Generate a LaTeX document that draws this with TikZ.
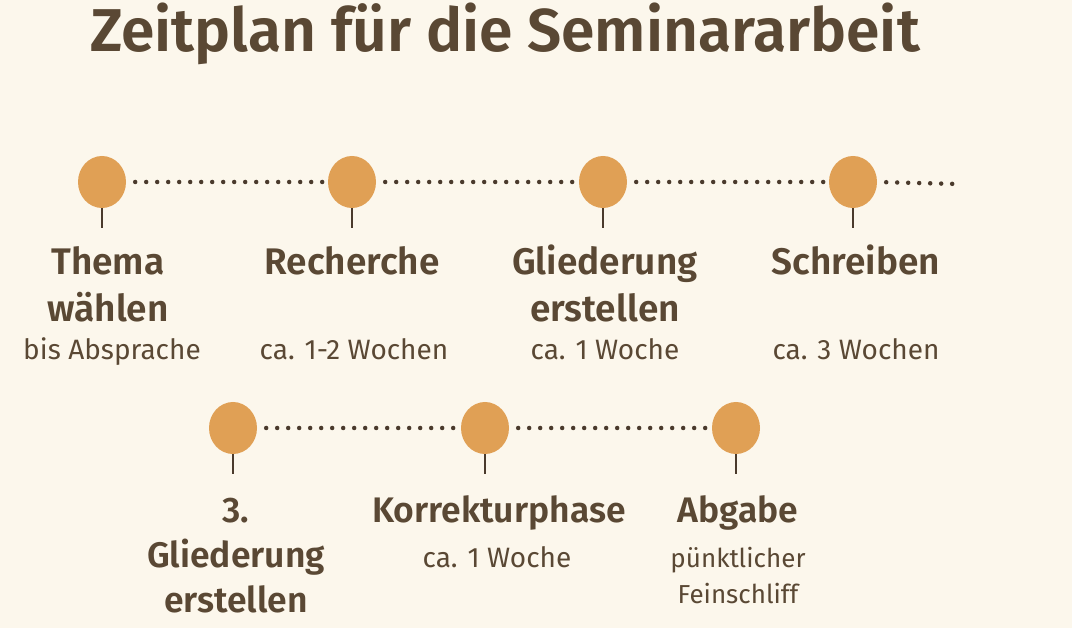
\documentclass[tikz,border=0pt]{standalone}
\usepackage{fontspec}
\setmainfont{Fira Sans}[BoldFont={Fira Sans SemiBold}]
\usetikzlibrary{shapes.geometric}
\definecolor{paper}{HTML}{FCF7EC}
\definecolor{ink}{HTML}{5A4834}
\definecolor{dotc}{HTML}{4A3A2C}
\definecolor{pinc}{HTML}{E0A055}

\begin{document}
\begin{tikzpicture}[x=1pt,y=-1pt,
  pin/.style={ellipse,fill=pinc,draw=none,minimum width=48pt,minimum height=52pt,inner sep=0pt},
  stem/.style={draw=dotc,line width=2.5pt},
  track/.style={draw=dotc,line width=4.5pt,line cap=round,dash pattern=on 0pt off 11pt,shorten <=9pt,shorten >=3pt},
  head/.style={text=ink,font=\bfseries\fontsize{37}{47}\selectfont,align=center,anchor=base,inner sep=0pt},
  head2/.style={head,font=\bfseries\fontsize{35.5}{45}\selectfont},
  note/.style={text=ink,font=\fontsize{28}{36}\selectfont,align=center,anchor=base,inner sep=0pt}]
\fill[paper] (0,0) rectangle (1072,628);
\useasboundingbox (0,0) rectangle (1072,628);

\node[text=ink,font=\bfseries\fontsize{60.5}{70}\selectfont,anchor=base,inner sep=0pt] (title) at (505,52) {Zeitplan für die Seminararbeit};

\node[pin] (thema) at (102,182) {};
\node[pin] (recherche) at (352,182) {};
\node[pin] (gliederung) at (603,182) {};
\node[pin] (schreiben) at (853,182) {};
\node[pin] (gliederung2) at (233,428) {};
\node[pin] (korrektur) at (485,428) {};
\node[pin] (abgabe) at (736,428) {};
\coordinate (ende) at (958,184);

\draw[track] (thema.east) -- (recherche.west);
\draw[track] (recherche.east) -- (gliederung.west);
\draw[track] (gliederung.east) -- (schreiben.west);
\draw[track] (schreiben.east) -- (ende);
\draw[track] (gliederung2.east) -- (korrektur.west);
\draw[track] (korrektur.east) -- (abgabe.west);

\foreach \p in {thema,recherche,gliederung,schreiben,gliederung2,korrektur,abgabe}{
  \coordinate (\p-fuss) at ([yshift=-20pt]\p.south);
  \draw[stem] (\p.south) -- (\p-fuss);
}

\node[head] (thema-t) at (108,322) {Thema\\wählen};
\node[note] (thema-n) at (112,360) {bis Absprache};
\node[head] (recherche-t) at (352,275) {Recherche};
\node[note] (recherche-n) at (354,360) {ca. 1-2 Wochen};
\node[head] (gliederung-t) at (605,322) {Gliederung\\erstellen};
\node[note] (gliederung-n) at (605,360) {ca. 1 Woche};
\node[head] (schreiben-t) at (856,275) {Schreiben};
\node[note] (schreiben-n) at (856,360) {ca. 3 Wochen};

\node[head2] (gliederung2-t) at (236,612) {3.\\Gliederung\\erstellen};
\node[head2] (korrektur-t) at (499,522) {Korrekturphase};
\node[note] (korrektur-n) at (497,567) {ca. 1 Woche};
\node[head2] (abgabe-t) at (738,522) {Abgabe};
\node[note,font=\fontsize{26}{36}\selectfont] (abgabe-n) at (738,603) {pünktlicher\\Feinschliff};
\end{tikzpicture}
\end{document}
